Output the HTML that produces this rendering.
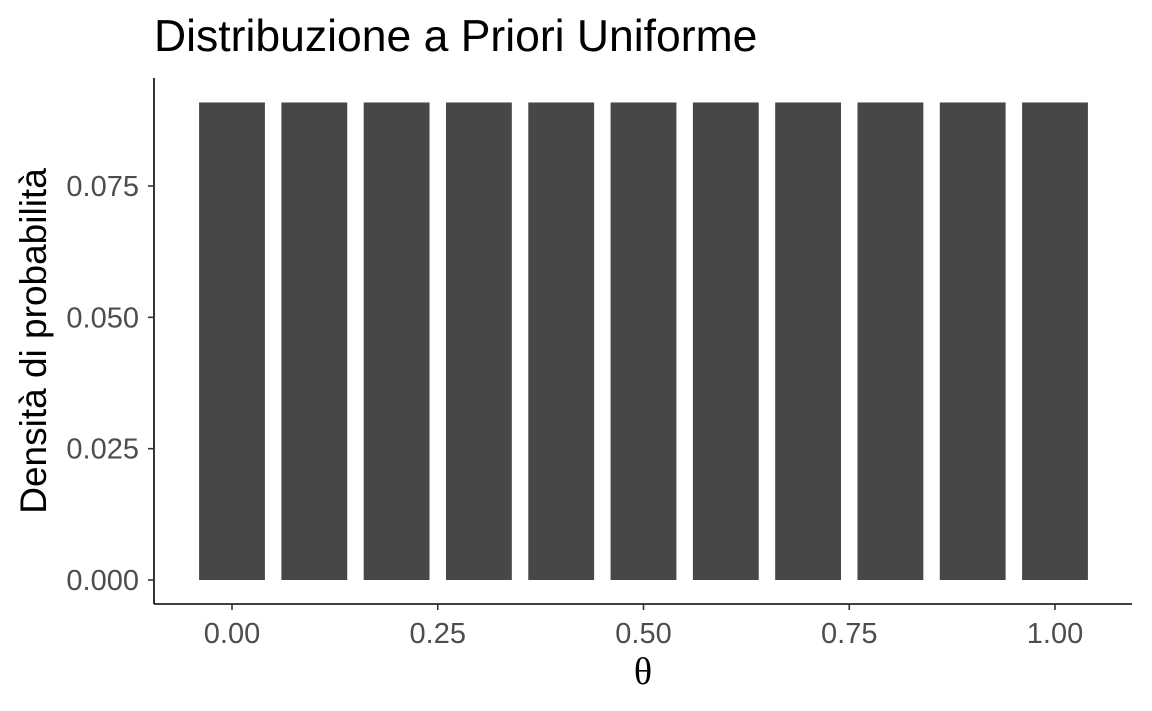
<!DOCTYPE html>
<html><head><meta charset="utf-8"><style>
html,body{margin:0;padding:0;background:#fff;}
svg{display:block;font-family:"Liberation Sans",sans-serif;}
</style></head><body>
<svg id="chart" width="1152" height="711">
<text x="154" y="51" style="font-size:44.5px" fill="#000">Distribuzione a Priori Uniforme</text>
<g id="bars"></g>
<line x1="154" y1="78" x2="154" y2="604" stroke="#000" stroke-width="1.6"/>
<line x1="154" y1="604" x2="1132" y2="604" stroke="#000" stroke-width="1.6"/>
<g id="yticks"></g><g id="xticks"></g>
<text transform="translate(46,341) rotate(-90)" text-anchor="middle" style="font-size:37px" fill="#000">Densità di probabilità</text>
<text x="643" y="684" text-anchor="middle" style="font-size:38px;font-family:'Liberation Serif',serif" fill="#000">θ</text>
</svg>
<script>
const categories=[0,0.1,0.2,0.3,0.4,0.5,0.6,0.7,0.8,0.9,1.0];
const values=[0.0909,0.0909,0.0909,0.0909,0.0909,0.0909,0.0909,0.0909,0.0909,0.0909,0.0909];
const yTicks=[0,0.025,0.05,0.075];
const yTickLabels=["0.000","0.025","0.050","0.075"];
const xTicks=[0,0.25,0.5,0.75,1];
const xTickLabels=["0.00","0.25","0.50","0.75","1.00"];
const NS="http://www.w3.org/2000/svg";
const xs=v=>232+v*823;
const ys=v=>580-v*(394/0.075);
const bw=0.08*823;
const bars=document.getElementById('bars');
categories.forEach((c,i)=>{
 const r=document.createElementNS(NS,'rect');
 r.setAttribute('x',xs(c)-bw/2);r.setAttribute('width',bw);
 r.setAttribute('y',ys(values[i]));r.setAttribute('height',ys(0)-ys(values[i]));
 r.setAttribute('fill','#474747');
 
 
 bars.appendChild(r);
});
const yt=document.getElementById('yticks');
yTicks.forEach((v,i)=>{
 const l=document.createElementNS(NS,'line');
 l.setAttribute('x1',148);l.setAttribute('x2',154);l.setAttribute('y1',ys(v));l.setAttribute('y2',ys(v));
 l.setAttribute('stroke','#333');l.setAttribute('stroke-width','1.6');
 
 
 yt.appendChild(l);
 const t=document.createElementNS(NS,'text');
 t.setAttribute('x',139);t.setAttribute('y',ys(v)+10);t.setAttribute('text-anchor','end');
 t.setAttribute('style','font-size:29px');t.setAttribute('fill','#4d4d4d');t.textContent=yTickLabels[i];
 
 
 yt.appendChild(t);
});
const xt=document.getElementById('xticks');
xTicks.forEach((v,i)=>{
 const l=document.createElementNS(NS,'line');
 l.setAttribute('x1',xs(v));l.setAttribute('x2',xs(v));l.setAttribute('y1',604);l.setAttribute('y2',610);
 l.setAttribute('stroke','#333');l.setAttribute('stroke-width','1.6');
 
 
 xt.appendChild(l);
 const t=document.createElementNS(NS,'text');
 t.setAttribute('x',xs(v));t.setAttribute('y',643);t.setAttribute('text-anchor','middle');
 t.setAttribute('style','font-size:29px');t.setAttribute('fill','#4d4d4d');t.textContent=xTickLabels[i];
 
 
 xt.appendChild(t);
});
</script>
</body></html>
